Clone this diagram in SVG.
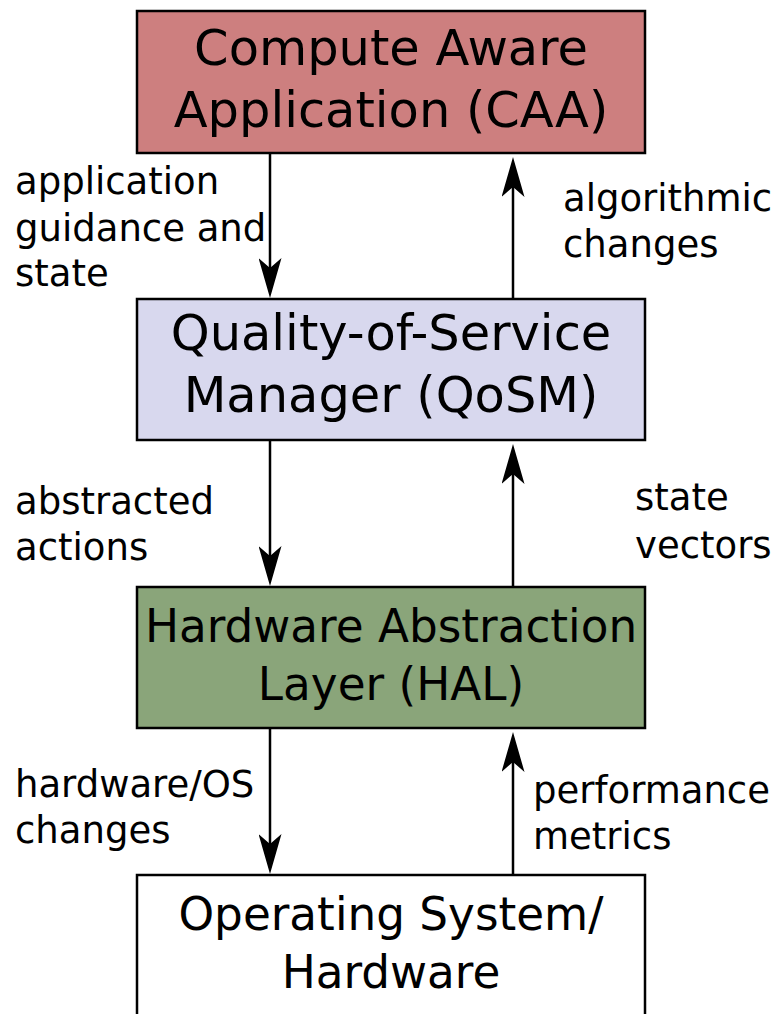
<svg xmlns="http://www.w3.org/2000/svg" width="775" height="1014" viewBox="0 0 775 1014">
  <defs>
    <style>
      .box { stroke: #000; stroke-width: 2.5; }
      .title { font-family: "DejaVu Sans", sans-serif; fill: #000; text-anchor: middle; }
      .big { font-size: 49.5px; }
      .mid { font-size: 45.3px; }
      .lbl { font-family: "DejaVu Sans", sans-serif; font-size: 37px; fill: #000; }
      .edge { stroke: #000; stroke-width: 2.5; fill: none; }
    </style>
    <!-- long notched arrowhead; tip sits 8 units past the line end -->
    <marker id="arrow" viewBox="0 0 40 23" refX="32" refY="11.5" markerWidth="40" markerHeight="23" markerUnits="userSpaceOnUse" orient="auto">
      <path d="M0 0 L40 11.5 L0 23 L10 11.5 Z" fill="#000"/>
    </marker>
  </defs>
  <rect width="775" height="1014" fill="#fff"/>

  <g id="caa">
    <rect class="box" x="137" y="11" width="508" height="142" fill="#cd7f7f"/>
    <text class="title big" x="391" y="65">Compute Aware</text>
    <text class="title big" x="391" y="127">Application (CAA)</text>
  </g>
  <g id="qosm">
    <rect class="box" x="137" y="299" width="508" height="141" fill="#d8d8ee"/>
    <text class="title big" x="391" y="350">Quality-of-Service</text>
    <text class="title big" x="391" y="412">Manager (QoSM)</text>
  </g>
  <g id="hal">
    <rect class="box" x="137" y="587" width="508" height="141" fill="#8aa57a"/>
    <text class="title mid" x="391" y="642">Hardware Abstraction</text>
    <text class="title mid" x="391" y="700">Layer (HAL)</text>
  </g>
  <g id="os">
    <rect class="box" x="137" y="875" width="508" height="160" fill="#fff"/>
    <text class="title mid" x="391" y="930">Operating System/</text>
    <text class="title mid" x="391" y="988">Hardware</text>
  </g>

  <g id="connectors">
    <line class="edge" x1="270" y1="153" x2="270" y2="290" marker-end="url(#arrow)"/>
    <line class="edge" x1="513" y1="299" x2="513" y2="165" marker-end="url(#arrow)"/>
    <line class="edge" x1="270" y1="440" x2="270" y2="578" marker-end="url(#arrow)"/>
    <line class="edge" x1="513" y1="587" x2="513" y2="452" marker-end="url(#arrow)"/>
    <line class="edge" x1="270" y1="728" x2="270" y2="866" marker-end="url(#arrow)"/>
    <line class="edge" x1="513" y1="875" x2="513" y2="740" marker-end="url(#arrow)"/>
  </g>

  <g id="labels">
    <text class="lbl" x="15" y="194">application</text>
    <text class="lbl" x="15" y="241">guidance and</text>
    <text class="lbl" x="15" y="286">state</text>
    <text class="lbl" x="563" y="211">algorithmic</text>
    <text class="lbl" x="563" y="257">changes</text>
    <text class="lbl" x="15" y="514">abstracted</text>
    <text class="lbl" x="15" y="560">actions</text>
    <text class="lbl" x="635" y="510">state</text>
    <text class="lbl" x="635" y="558">vectors</text>
    <text class="lbl" x="15" y="797">hardware/OS</text>
    <text class="lbl" x="15" y="843">changes</text>
    <text class="lbl" x="533" y="803">performance</text>
    <text class="lbl" x="533" y="849">metrics</text>
  </g>
</svg>
